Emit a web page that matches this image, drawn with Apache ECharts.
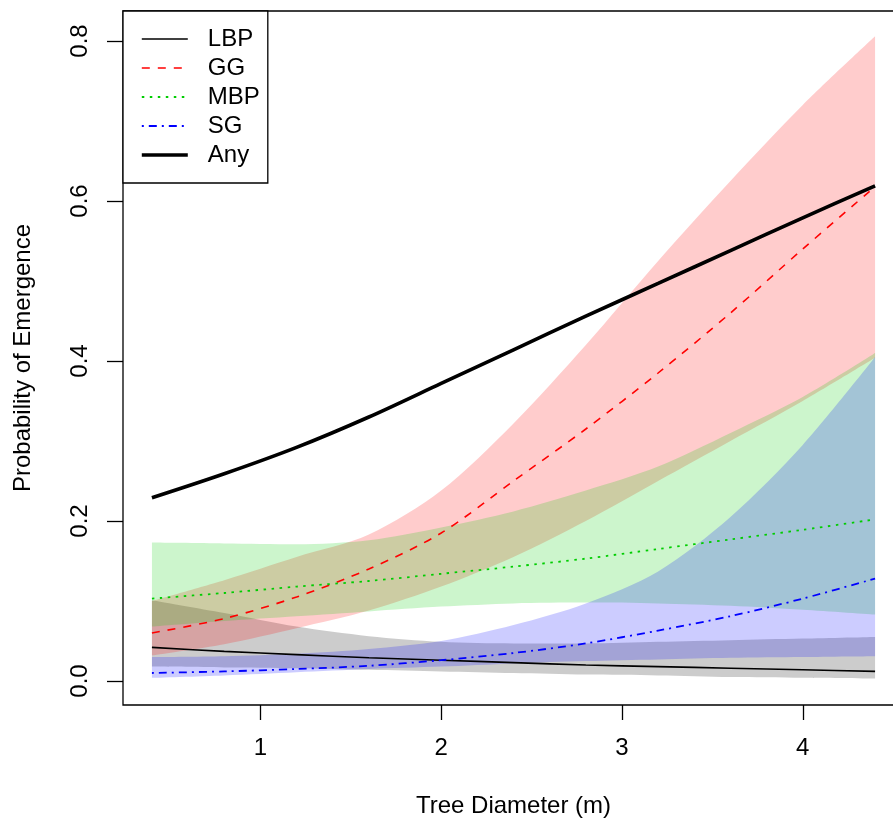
<!DOCTYPE html>
<html>
<head>
<meta charset="utf-8">
<script src="https://cdn.jsdelivr.net/npm/echarts@6/dist/echarts.min.js"></script>
<style>
  html, body { margin: 0; padding: 0; background: #fff; }
  #chart { width: 893px; height: 820px; }
</style>
</head>
<body>
<div id="chart"></div>
<script>
// tree diameter (m) where the curves are evaluated
var xs = [0.4, 0.8, 1.2, 1.6, 2.0, 2.4, 2.8, 3.2, 3.6, 4.0, 4.4];

// estimates and confidence bands
var lbp   = [0.042, 0.037, 0.033, 0.029, 0.026, 0.023, 0.020, 0.018, 0.016, 0.014, 0.012];
var lbpLo = [0.018, 0.017, 0.016, 0.014, 0.012, 0.010, 0.008, 0.007, 0.005, 0.004, 0.003];
var lbpHi = [0.101, 0.085, 0.068, 0.056, 0.049, 0.047, 0.047, 0.049, 0.051, 0.053, 0.055];

var gg    = [0.060, 0.078, 0.105, 0.140, 0.185, 0.250, 0.315, 0.385, 0.460, 0.540, 0.618];
var ggLo  = [0.032, 0.046, 0.066, 0.088, 0.118, 0.155, 0.200, 0.250, 0.300, 0.350, 0.404];
var ggHi  = [0.100, 0.126, 0.155, 0.183, 0.238, 0.322, 0.420, 0.525, 0.625, 0.720, 0.806];

var mbp   = [0.103, 0.110, 0.118, 0.125, 0.134, 0.143, 0.153, 0.165, 0.177, 0.189, 0.202];
var mbpLo = [0.068, 0.075, 0.081, 0.087, 0.093, 0.097, 0.098, 0.097, 0.094, 0.089, 0.083];
var mbpHi = [0.173, 0.172, 0.171, 0.176, 0.192, 0.212, 0.238, 0.268, 0.310, 0.355, 0.410];

var sg    = [0.010, 0.012, 0.015, 0.019, 0.026, 0.035, 0.047, 0.063, 0.081, 0.103, 0.128];
var sgLo  = [0.004, 0.007, 0.011, 0.015, 0.018, 0.022, 0.025, 0.027, 0.029, 0.030, 0.031];
var sgHi  = [0.030, 0.031, 0.034, 0.040, 0.050, 0.070, 0.097, 0.137, 0.205, 0.295, 0.405];

var anyP  = [0.229, 0.259, 0.292, 0.330, 0.372, 0.414, 0.456, 0.497, 0.538, 0.579, 0.619];

var xTicks = [1, 2, 3, 4];
var yTicks = [0, 0.2, 0.4, 0.6, 0.8];

var FONT = '"Liberation Sans", Arial, sans-serif';

function pairs(ys) {
  return xs.map(function (x, i) { return [x, ys[i]]; });
}
// band rows are [y, x] so that the stack runs on the y values
function lowRows(lo) {
  return xs.map(function (x, i) { return [lo[i], x]; });
}
function widthRows(hi, lo) {
  return xs.map(function (x, i) { return [+(hi[i] - lo[i]).toFixed(4), x]; });
}

// a band = invisible lower line + stacked (upper - lower) with a fill
function band(id, lo, hi, color) {
  return [{
    name: id + ' lo', type: 'line', stack: id, data: lowRows(lo),
    encode: { x: 1, y: 0 },
    symbol: 'none', smooth: 0.3, silent: true,
    lineStyle: { opacity: 0, width: 0 }
  }, {
    name: id + ' band', type: 'line', stack: id, data: widthRows(hi, lo),
    encode: { x: 1, y: 0 },
    symbol: 'none', smooth: 0.3, silent: true,
    lineStyle: { opacity: 0, width: 0 },
    areaStyle: { color: color, opacity: 1 }
  }];
}

function curve(name, ys, color, width, dash) {
  return {
    name: name, type: 'line', data: pairs(ys),
    symbol: 'none', smooth: 0.3, silent: true,
    itemStyle: { color: color },
    lineStyle: { color: color, width: width, type: dash }
  };
}

var series = []
  .concat(band('LBP', lbpLo, lbpHi, 'rgba(0,0,0,0.2)'))
  .concat(band('GG', ggLo, ggHi, 'rgba(255,0,0,0.2)'))
  .concat(band('MBP', mbpLo, mbpHi, 'rgba(0,205,0,0.2)'))
  .concat(band('SG', sgLo, sgHi, 'rgba(0,0,255,0.2)'))
  .concat([
    curve('LBP', lbp, '#000000', 1.6, 'solid'),
    curve('GG', gg, '#ff0000', 1.6, [8, 8]),
    curve('MBP', mbp, '#00cd00', 1.8, [2.5, 5.5]),
    curve('SG', sg, '#0000ff', 1.8, [2, 5, 8, 5]),
    curve('Any', anyP, '#000000', 3.6, 'solid')
  ]);

var chart = echarts.init(document.getElementById('chart'));

chart.setOption({
  animation: false,
  backgroundColor: '#fff',
  grid: {
    left: 123, top: 11, right: -11, bottom: 115,
    show: true, borderColor: '#000', borderWidth: 1.3,
    containLabel: false, outerBoundsMode: 'none'
  },
  legend: {
    data: [
      { name: 'LBP', lineStyle: { width: 1.6 } },
      { name: 'GG', lineStyle: { width: 1.6 } },
      { name: 'MBP', lineStyle: { width: 1.8 } },
      { name: 'SG', lineStyle: { width: 1.8 } },
      { name: 'Any', lineStyle: { width: 3.6 } }
    ],
    orient: 'vertical', left: 123, top: 11,
    padding: [16, 8, 16, 17],
    itemWidth: 46, itemHeight: 14, itemGap: 5,
    backgroundColor: '#fff', borderColor: '#000', borderWidth: 1.3, borderRadius: 0,
    selectedMode: false,
    itemStyle: { color: 'rgba(0,0,0,0)', borderWidth: 0, opacity: 0 },
    textStyle: { fontSize: 24, color: '#000', fontFamily: FONT, padding: [0, 0, 0, 15] }
  },
  xAxis: {
    type: 'value', min: 0.24, max: 4.56,
    name: 'Tree Diameter (m)', nameLocation: 'middle', nameGap: 89,
    nameTextStyle: { fontSize: 24, color: '#000', fontFamily: FONT },
    axisLine: { show: false, onZero: false },
    axisTick: { show: true, length: 15, customValues: xTicks, lineStyle: { color: '#000', width: 1.3 } },
    axisLabel: { customValues: xTicks, margin: 31, fontSize: 24, color: '#000', fontFamily: FONT,
      formatter: function (v) { return String(v); } },
    splitLine: { show: false }
  },
  yAxis: {
    type: 'value', min: -0.03, max: 0.8375,
    name: 'Probability of Emergence', nameLocation: 'middle', nameGap: 88, nameRotate: 90,
    nameTextStyle: { fontSize: 24, color: '#000', fontFamily: FONT },
    axisLine: { show: false, onZero: false },
    axisTick: { show: true, length: 16, customValues: yTicks, lineStyle: { color: '#000', width: 1.3 } },
    axisLabel: { customValues: yTicks, rotate: 90, margin: 31, fontSize: 24, color: '#000', fontFamily: FONT,
      formatter: function (v) { return v.toFixed(1); } },
    splitLine: { show: false }
  },
  series: series
});
</script>
</body>
</html>
